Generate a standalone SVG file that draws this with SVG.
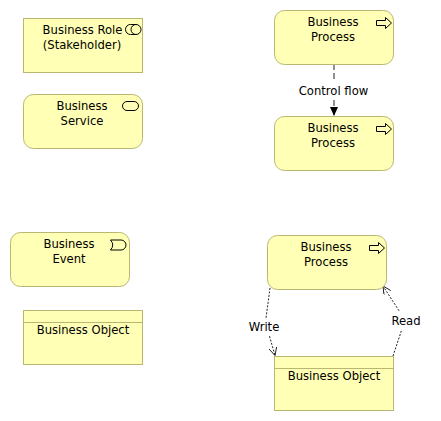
<svg xmlns="http://www.w3.org/2000/svg" width="441" height="421" viewBox="0 0 441 421">
<defs>
<style>
.n{fill:#ffffb5;stroke:#b9b772;stroke-width:1}
.t{font:11.6px "DejaVu Sans",sans-serif;fill:#000;text-anchor:middle}
.i{fill:none;stroke:#000;stroke-width:1}
.pi{fill:#ffffb5;stroke:#000;stroke-width:1}
.c{fill:none;stroke:#222;stroke-width:1}
</style>
<path id="arrow" class="pi" d="M0 -2.500H9V-5.500L15 0L9 5.500V2.500H0Z"/>
<marker id="solid" markerWidth="10" markerHeight="10" refX="9" refY="4" orient="auto" markerUnits="userSpaceOnUse"><path d="M0 0L9 4L0 8Z" fill="#000"/></marker>
<marker id="open" markerWidth="10" markerHeight="10" refX="8" refY="4" orient="auto" markerUnits="userSpaceOnUse"><path d="M0 0L8 4L0 8" fill="none" stroke="#000" stroke-width="0.8"/></marker>
</defs>
<rect width="441" height="421" fill="#fff"/>
<g id="connectors">
<path class="c" stroke-dasharray="6 3" d="M334 64V116" marker-end="url(#solid)"/>
<path class="c" stroke-dasharray="2 1.500" d="M270 288L265.500 322L275 355.500" marker-end="url(#open)"/>
<path class="c" stroke-dasharray="2 1.500" d="M393 356L405 320L383 286" marker-end="url(#open)"/>
<rect x="296" y="81" width="76" height="19" fill="#fff"/>
<rect x="247" y="318" width="34" height="18" fill="#fff"/>
<rect x="391" y="312" width="32" height="18" fill="#fff"/>
<text class="t" x="333.500" y="95">Control flow</text>
<text class="t" x="264" y="331">Write</text>
<text class="t" x="406" y="325">Read</text>
</g>
<g id="role">
<rect class="n" x="23.500" y="18.500" width="119" height="54"/>
<path class="i" d="M130.500 24.500H136.500M130.500 34.500H136.500M130.500 24.500A5 5 0 0 0 130.500 34.500"/>
<circle class="i" cx="136" cy="29.500" r="5"/>
<text class="t" x="82.500" y="34">Business Role</text>
<text class="t" x="82" y="49">(Stakeholder)</text>
</g>
<g id="service">
<rect class="n" x="23.500" y="94.500" width="119" height="54" rx="10"/>
<rect class="i" x="122.500" y="101.500" width="16" height="9" rx="4.500"/>
<text class="t" x="82" y="110">Business</text>
<text class="t" x="82" y="125">Service</text>
</g>
<g id="process1">
<rect class="n" x="274.500" y="10.500" width="119" height="54" rx="10"/>
<use href="#arrow" x="376.500" y="23"/>
<text class="t" x="333" y="26">Business</text>
<text class="t" x="333" y="41">Process</text>
</g>
<g id="process2">
<rect class="n" x="274.500" y="116.500" width="119" height="54" rx="10"/>
<use href="#arrow" x="376.500" y="129"/>
<text class="t" x="333" y="132">Business</text>
<text class="t" x="333" y="147">Process</text>
</g>
<g id="event">
<rect class="n" x="10.500" y="232.500" width="119" height="54" rx="10"/>
<path class="i" d="M110.500 240H121A5 5 0 0 1 121 250H110.500Q115 245 110.500 240Z"/>
<text class="t" x="69" y="248">Business</text>
<text class="t" x="69" y="263">Event</text>
</g>
<g id="object1">
<rect class="n" x="23.500" y="310.500" width="119" height="54"/>
<path class="n" d="M23.500 322.500H142.500"/>
<text class="t" x="83" y="334">Business Object</text>
</g>
<g id="process3">
<rect class="n" x="267.500" y="235.500" width="119" height="54" rx="10"/>
<use href="#arrow" x="369.500" y="248"/>
<text class="t" x="326" y="251">Business</text>
<text class="t" x="326" y="266">Process</text>
</g>
<g id="object2">
<rect class="n" x="274.500" y="356.500" width="119" height="54"/>
<path class="n" d="M274.500 368.500H393.500"/>
<text class="t" x="334" y="380">Business Object</text>
</g>
</svg>
